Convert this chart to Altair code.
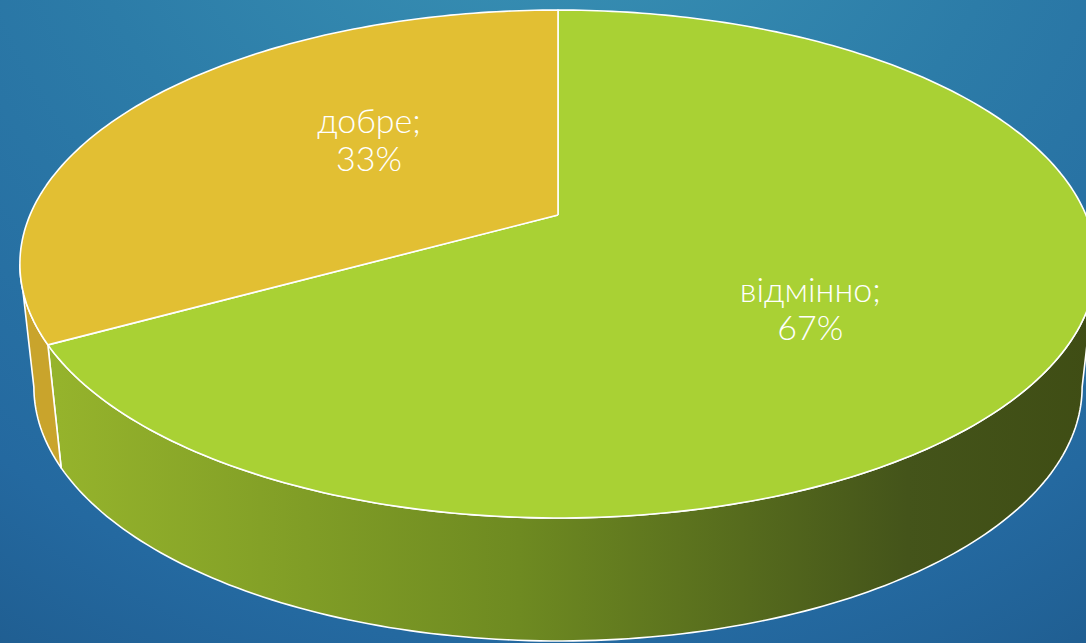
import numpy as np
import pandas as pd
import altair as alt

# ---- data ----
categories = ["відмінно", "добре"]
values = [67, 33]
top_colors = ["#a9d134", "#e2bf33"]
side_solid = ["#8aa828", "#c9a42c"]

# ---- layout / geometry constants ----
W, H = 1086, 643
CX, CY = 558.0, 215.0        # projected pie centre
SX, SY = 528.0, 244.5        # projected radii (before perspective)
K = 0.193                    # perspective strength
DEPTH = 123.0                # extrusion height
BOT_SX = 0.974               # bottom face horizontal shrink
LABEL_R, LABEL_ROT = 0.54, 9.0


def project(theta_deg, r=1.0, bottom=False):
    t = np.radians(theta_deg)
    X, Y = r * np.cos(t), r * np.sin(t)
    den = 1 + K * Y
    u, v = X / den, Y / den
    sx = SX * (BOT_SX if bottom else 1.0)
    x = CX + sx * u
    y = CY + (DEPTH if bottom else 0.0) - SY * v
    return x, y


def arc(a0, a1, bottom=False):
    n = max(2, int(abs(a1 - a0)) + 2)
    th = np.linspace(a0, a1, n)
    return project(th, 1.0, bottom)


total = float(sum(values))
cum = np.concatenate([[0.0], np.cumsum(values)]) / total
starts = 90 - cum[:-1] * 360
ends = 90 - cum[1:] * 360

# silhouette angles of the cylinder (left-most / right-most of top ellipse)
grid = np.linspace(-270, 90, 7201)
gx, _ = project(grid)
a_left = grid[np.argmin(gx)]
a_right = grid[np.argmax(gx)]

xs = alt.Scale(domain=[0, W], range=[0, W], nice=False, zero=False)
ys = alt.Scale(domain=[H, 0], nice=False, zero=False)

green_side = alt.LinearGradient(
    gradient="linear",
    stops=[
        alt.GradientStop(color="#96b42c", offset=0),
        alt.GradientStop(color="#6e8a21", offset=0.45),
        alt.GradientStop(color="#44541a", offset=0.82),
        alt.GradientStop(color="#3f4d14", offset=1),
    ],
    x1=0, x2=1, y1=0, y2=0,
)
side_fills = [green_side, side_solid[1]]


def poly_chart(px, py, fill):
    px = np.append(px, px[0])
    py = np.append(py, py[0])
    df = pd.DataFrame({"x": px, "y": py, "i": np.arange(len(px))})
    return alt.Chart(df).mark_line(
        fill=fill, stroke="white", strokeWidth=1.6, strokeJoin="round", clip=True
    ).encode(
        x=alt.X("x:Q", scale=xs, axis=None),
        y=alt.Y("y:Q", scale=ys, axis=None),
        order=alt.Order("i:Q"),
    )


# background
bg = alt.Chart(pd.DataFrame({"a": [0]})).mark_rect(
    fill=alt.RadialGradient(
        gradient="radial",
        stops=[
            alt.GradientStop(color="#3c97b7", offset=0),
            alt.GradientStop(color="#2c7ca8", offset=0.45),
            alt.GradientStop(color="#2469a0", offset=0.8),
            alt.GradientStop(color="#1e5a8c", offset=1),
        ],
        x1=0.5, y1=0.0, r1=0, x2=0.5, y2=0.0, r2=1.0,
    )
).encode(x=alt.value(0), x2=alt.value(W), y=alt.value(0), y2=alt.value(H))

layers = [bg]

# sides
for i in range(len(values)):
    lo = max(min(starts[i], ends[i]), a_left)
    hi = min(max(starts[i], ends[i]), a_right)
    if hi <= lo:
        continue
    tx, ty = arc(lo, hi)
    bx, by = arc(hi, lo, bottom=True)
    layers.append(poly_chart(np.concatenate([tx, bx]), np.concatenate([ty, by]), side_fills[i]))

# top faces
for i in range(len(values)):
    ax_, ay_ = arc(starts[i], ends[i])
    px = np.concatenate([[CX], ax_])
    py = np.concatenate([[CY], ay_])
    layers.append(poly_chart(px, py, top_colors[i]))

# labels
mids = (starts + ends) / 2 - LABEL_ROT
lx, ly = project(mids, LABEL_R)
pcts = [round(v / total * 100) for v in values]
lab = pd.DataFrame({
    "x": lx, "y": ly,
    "t": [f"{c};\n{p}%" for c, p in zip(categories, pcts)],
})
labels = alt.Chart(lab).mark_text(
    color="white", font="Lato", fontSize=34, fontWeight=300,
    lineBreak="\n", lineHeight=38, align="center", baseline="middle",
    dx=17, dy=-13,
).encode(
    x=alt.X("x:Q", scale=xs, axis=None),
    y=alt.Y("y:Q", scale=ys, axis=None),
    text="t:N",
)
layers.append(labels)

chart = alt.layer(*layers).properties(
    width=W, height=H, padding=0, autosize=alt.AutoSizeParams(type="none"),
    background="#2a78a5",
).configure_view(stroke=None)

chart.save("out.html", embed_options={"renderer": "svg", "actions": False})
